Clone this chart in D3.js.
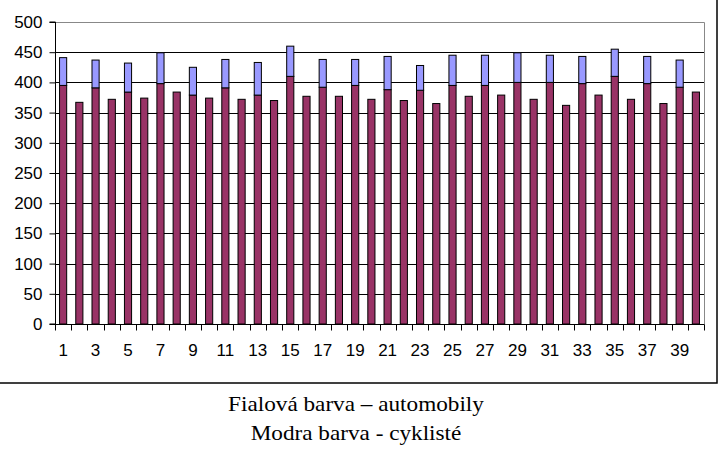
<!DOCTYPE html>
<html><head><meta charset="utf-8">
<script src="https://cdn.jsdelivr.net/npm/d3@7/dist/d3.min.js"></script>
<style>body{margin:0;background:#fff}svg{display:block}</style>
</head><body>
<svg id="c" width="726" height="452"></svg>
<script>
const categories = d3.range(1, 41).map(String);
const automobily = [395,367,391,372,384,374,398,384,379,374,391,372,379,370,410,377,392,377,395,372,388,370,387,365,395,377,395,379,400,372,400,362,398,379,410,372,398,365,392,384];
const cykliste = [46,0,46,0,48,0,51,0,46,0,47,0,54,0,50,0,46,0,43,0,55,0,41,0,50,0,50,0,49,0,45,0,45,0,45,0,45,0,45,0];
const yTicks = [0,50,100,150,200,250,300,350,400,450,500];
const xTickLabels = categories.filter((d,i)=>i%2===0);
const captions = ["Fialová barva – automobily", "Modra barva - cyklisté"];

const svg = d3.select("#c");
const L = 55, R = 704, T = 22, B = 324;
const x = d3.scaleBand().domain(categories).range([L, R]).paddingInner(0.56).paddingOuter(0.28);
const y = d3.scaleLinear().domain([0, 500]).range([B, T]);

// outer frame
svg.append("rect").attr("x", -2).attr("y", -2).attr("width", 719).attr("height", 385)
  .attr("fill", "none").attr("stroke", "#000").attr("stroke-width", 1.5);

// gridlines
svg.append("g").selectAll("line").data(yTicks.filter(v=>v>0 && v<500)).join("line")
  .attr("x1", L).attr("x2", R).attr("y1", d=>Math.round(y(d))+0.5).attr("y2", d=>Math.round(y(d))+0.5)
  .attr("stroke", "#000").attr("stroke-width", 1);
// plot area border (grey) top and right
svg.append("path").attr("d", `M${L},${T+0.5}H${R+0.5}V${B}`).attr("fill","none").attr("stroke","#888").attr("stroke-width",1);

// bars
const stack = categories.map((c,i)=>({c, a: automobily[i], b: cykliste[i]}));
const g = svg.append("g");
g.selectAll("rect.a").data(stack).join("rect").attr("class","a")
  .attr("x", d=>x(d.c)).attr("width", x.bandwidth())
  .attr("y", d=>y(d.a)).attr("height", d=>y(0)-y(d.a))
  .attr("fill", "#993366").attr("stroke", "#000").attr("stroke-width", 1);
g.selectAll("rect.b").data(stack.filter(d=>d.b>0)).join("rect").attr("class","b")
  .attr("x", d=>x(d.c)).attr("width", x.bandwidth())
  .attr("y", d=>y(d.a+d.b)).attr("height", d=>y(d.a)-y(d.a+d.b))
  .attr("fill", "#9999FF").attr("stroke", "#000").attr("stroke-width", 1);

// y axis
const ya = svg.append("g").attr("transform", `translate(${L+0.5},0)`)
  .call(d3.axisLeft(y).tickValues(yTicks).tickSize(6).tickPadding(7).tickFormat(d3.format("d")));
ya.select(".domain").attr("stroke","#000").attr("d", `M-6,${B}H0V${T}H-6`);
ya.selectAll("text").attr("font-family","'Liberation Sans', Arial, sans-serif").attr("font-size", 17).attr("fill","#000");

// x axis
const xa = svg.append("g").attr("transform", `translate(0,${B+0.5})`);
xa.append("line").attr("x1", L).attr("x2", R+0.5).attr("stroke","#000");
const bounds = d3.range(0, 41).map(i => L + (R-L)/40*i);
xa.selectAll("line.t").data(bounds).join("line").attr("class","t")
  .attr("x1", d=>Math.round(d)+0.5).attr("x2", d=>Math.round(d)+0.5).attr("y1",0).attr("y2",6).attr("stroke","#000");
xa.selectAll("text").data(xTickLabels).join("text")
  .attr("x", d=>x(d)+x.bandwidth()/2).attr("y", 31).attr("text-anchor","middle")
  .attr("font-family","'Liberation Sans', Arial, sans-serif").attr("font-size", 17).text(d=>d);

// captions
svg.selectAll("text.cap").data(captions).join("text").attr("class","cap")
  .attr("transform", (d,i)=>`translate(356,${411 + i*29}) scale(1.08,1)`)
  .attr("text-anchor","middle")
  .attr("font-family","'Liberation Serif', 'Times New Roman', serif").attr("font-size", 21.5).text(d=>d);
</script>
</body></html>
